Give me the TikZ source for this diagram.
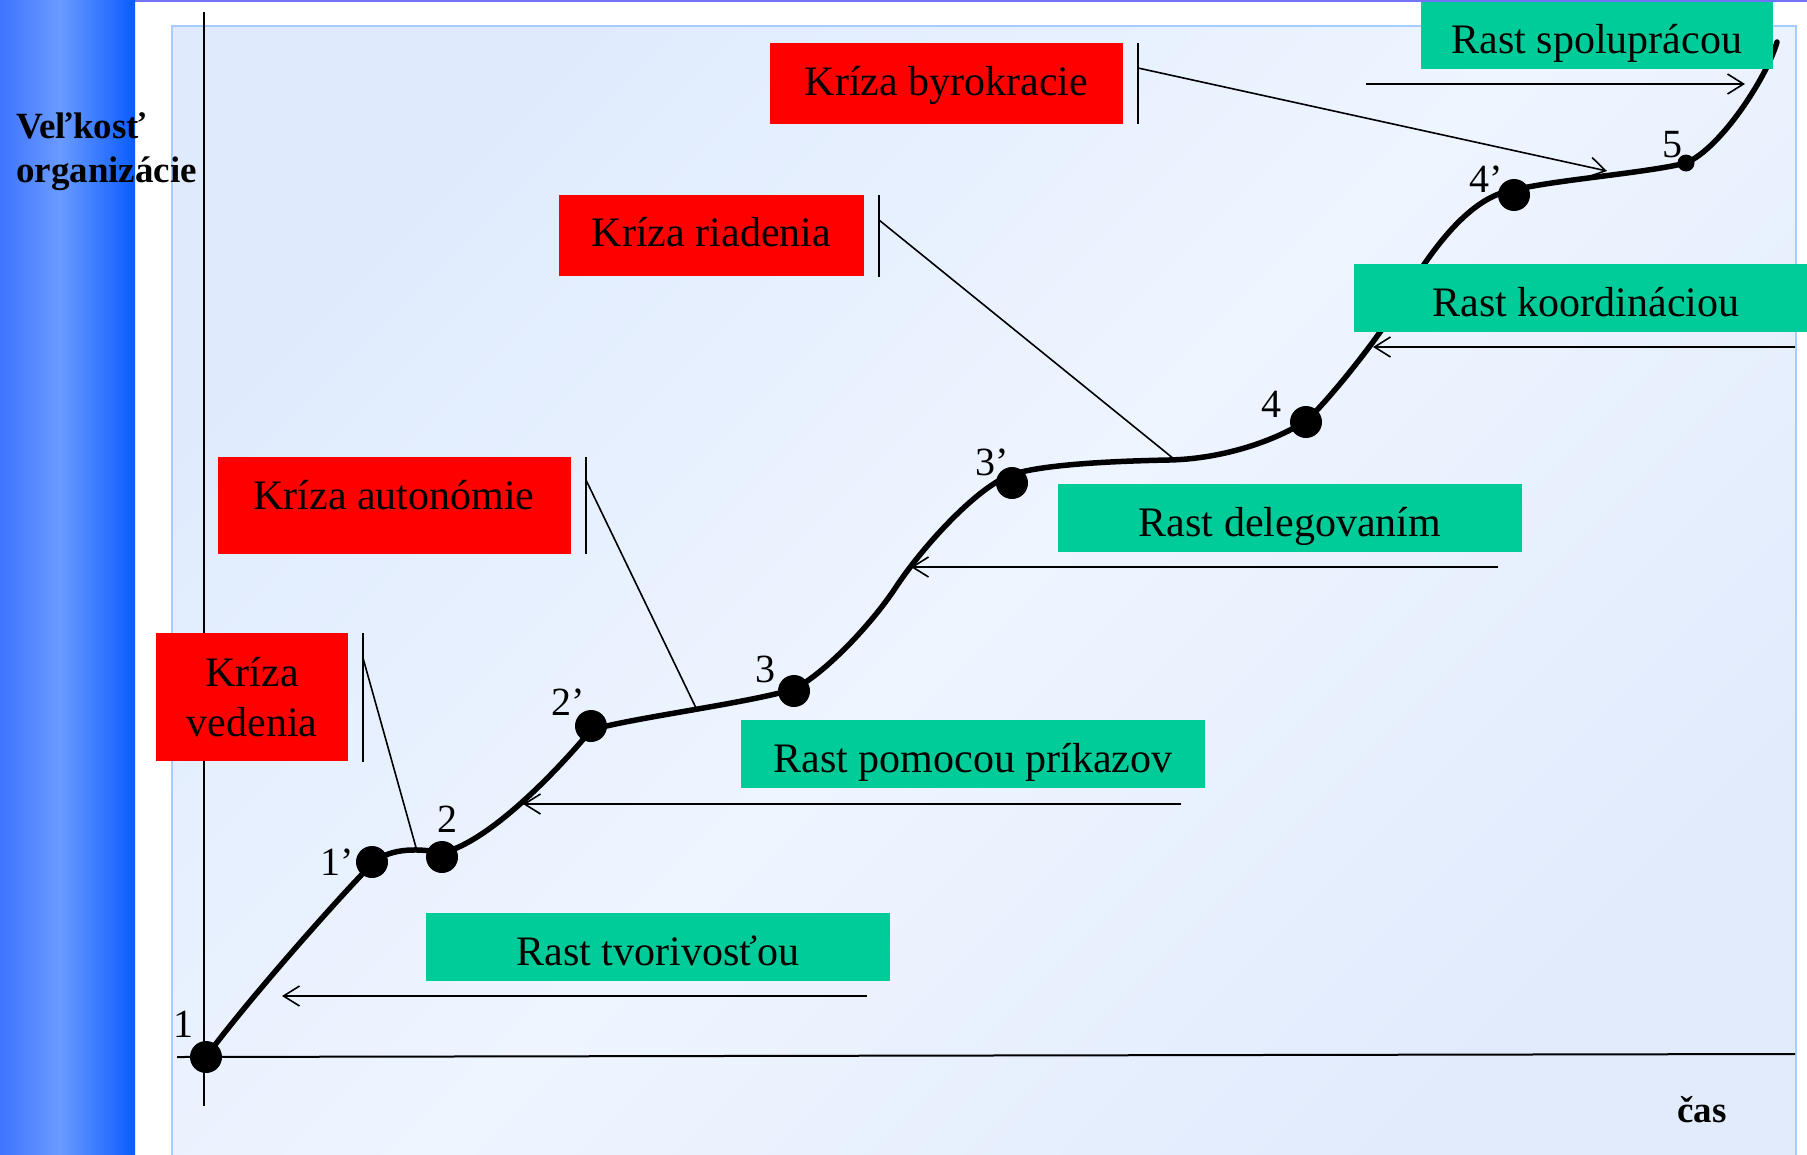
\documentclass[tikz,border=0pt]{standalone}
\usepackage{fontspec}
\setmainfont{Liberation Serif}
\usetikzlibrary{arrows.meta}

\definecolor{critred}{RGB}{255,0,0}
\definecolor{growgreen}{RGB}{0,204,153}
\definecolor{barA}{RGB}{62,116,255}
\definecolor{barB}{RGB}{106,155,255}
\definecolor{barC}{RGB}{10,92,255}
\definecolor{panelA}{RGB}{223,235,253}
\definecolor{panelB}{RGB}{238,245,255}
\definecolor{panelC}{RGB}{225,235,252}
\definecolor{panelEdge}{RGB}{166,205,255}
\definecolor{topRule}{RGB}{115,115,245}

\tikzset{
  crisis/.style={fill=critred, inner sep=0pt, text depth=0pt,
    font=\fontsize{42pt}{50pt}\selectfont},
  growth/.style={fill=growgreen, inner sep=0pt, text height=36pt, text depth=0pt,
    minimum height=68pt, font=\fontsize{42pt}{50pt}\selectfont},
  dot/.style={circle, fill=black, inner sep=0pt, minimum size=32pt},
  smalldot/.style={circle, fill=black, inner sep=0pt, minimum size=17pt},
  ptlabel/.style={anchor=base, inner sep=0pt, font=\fontsize{40pt}{48pt}\selectfont},
  axislabel/.style={inner sep=0pt, font=\bfseries\fontsize{37pt}{44pt}\selectfont},
  axisline/.style={line width=2pt},
  thinline/.style={line width=1.6pt},
  growtharrow/.style={line width=1.6pt, -{Straight Barb[length=16pt,width=20pt,line width=1.6pt]}},
  growthcurve/.style={line width=5.5pt, line cap=round, line join=round},
}

\begin{document}
\begin{tikzpicture}[x=1pt, y=-1pt]
\clip (0,0) rectangle (1807,1154);

% page background and the blue side band
\fill[white] (0,0) rectangle (1807,1154);
\shade[left color=barA, right color=barB] (0,0) rectangle (60,1154);
\shade[left color=barB, right color=barC] (60,0) rectangle (135,1154);

% light chart panel, lighter along its middle diagonal
\shade[left color=panelA, right color=panelC, middle color=panelB, shading angle=45]
  (172,26) rectangle (1796,1170);
\draw[panelEdge, line width=2pt] (172,26) rectangle (1796,1170);

% axes
\coordinate (yTop) at (204,12);
\coordinate (yBot) at (204,1106);
\coordinate (xLeft) at (177,1057);
\coordinate (xRight) at (1795,1054);
\draw[axisline] (yTop) -- (yBot);
\draw[axisline] (xLeft) -- (xRight);

% growth-phase arrows
\coordinate (tvoS) at (867,996);   \coordinate (tvoT) at (282,996);
\coordinate (priS) at (1181,804);  \coordinate (priT) at (523,804);
\coordinate (delS) at (1498,567);  \coordinate (delT) at (911,567);
\coordinate (korS) at (1795,347);  \coordinate (korT) at (1373,347);
\coordinate (spoS) at (1366,84);   \coordinate (spoT) at (1745,84);
\draw[growtharrow] (tvoS) -- (tvoT);
\draw[growtharrow] (priS) -- (priT);
\draw[growtharrow] (delS) -- (delT);
\draw[growtharrow] (korS) -- (korT);
\draw[growtharrow] (spoS) -- (spoT);

% crisis brackets and leaders
\coordinate (vedTop) at (363,633);  \coordinate (vedBot) at (363,762);
\coordinate (vedJoin) at (363,658); \coordinate (vedEnd) at (417,851);
\coordinate (autTop) at (586,457);  \coordinate (autBot) at (586,554);
\coordinate (autJoin) at (586,480); \coordinate (autEnd) at (697,710);
\coordinate (riaTop) at (879,195);  \coordinate (riaBot) at (879,277);
\coordinate (riaJoin) at (879,220); \coordinate (riaEnd) at (1174,459);
\coordinate (byrTop) at (1138,43);  \coordinate (byrBot) at (1138,124);
\coordinate (byrJoin) at (1138,68); \coordinate (byrEnd) at (1607,171);
\draw[thinline] (vedTop) -- (vedBot);
\draw[thinline] (vedJoin) -- (vedEnd);
\draw[thinline] (autTop) -- (autBot);
\draw[thinline] (autJoin) -- (autEnd);
\draw[thinline] (riaTop) -- (riaBot);
\draw[thinline] (riaJoin) -- (riaEnd);
\draw[thinline] (byrTop) -- (byrBot);
\draw[growtharrow] (byrJoin) -- (byrEnd);

% organisation growth curve, through the phase points
\coordinate (c1)  at (206,1057);
\coordinate (c1b) at (372,864);
\coordinate (c2)  at (442,853);
\coordinate (c2b) at (591,730);
\coordinate (c3)  at (794,689);
\coordinate (m3)  at (896,587);
\coordinate (c3b) at (1008,476);
\coordinate (m4)  at (1169,460);
\coordinate (c4)  at (1306,421);
\coordinate (m5)  at (1400,302);
\coordinate (c4b) at (1514,190);
\coordinate (c5)  at (1686,163);
\coordinate (cE)  at (1777,42);
\draw[growthcurve] (c1)
  .. controls +(40,-55) and +(-30,30) .. (c1b)
  .. controls +(18,-18) and +(-18,-4) .. (c2)
  .. controls +(50,-12) and +(-28,34) .. (c2b)
  .. controls +(40,-12) and +(-45,14) .. (c3)
  .. controls +(30,-15) and +(-25,38) .. (m3)
  .. controls +(25,-38) and +(-35,15) .. (c3b)
  .. controls +(30,-12) and +(-50,1) .. (m4)
  .. controls +(50,-1) and +(-35,22) .. (c4)
  .. controls +(22,-20) and +(-22,37) .. (m5)
  .. controls +(30,-50) and +(-45,6) .. (c4b)
  .. controls +(40,-10) and +(-40,10) .. (c5)
  .. controls +(35,-15) and +(-10,35) .. (cE);

% phase points
\node[dot] (d1)  at (206,1057) {};
\node[dot] (d1b) at (372,862) {};
\node[dot] (d2)  at (442,857) {};
\node[dot] (d2b) at (591,726) {};
\node[dot] (d3)  at (794,691) {};
\node[dot] (d3b) at (1012,483) {};
\node[dot] (d4)  at (1306,422) {};
\node[dot] (d4b) at (1514,195) {};
\node[smalldot] (d5) at (1686,163) {};

\node[ptlabel] (l1)  at (183,1037) {1};
\node[ptlabel] (l1b) at (337,875) {1’};
\node[ptlabel] (l2)  at (447,832) {2};
\node[ptlabel] (l2b) at (568,715) {2’};
\node[ptlabel] (l3)  at (765,682) {3};
\node[ptlabel] (l3b) at (992,475) {3’};
\node[ptlabel] (l4)  at (1271,417) {4};
\node[ptlabel] (l4b) at (1486,192) {4’};
\node[ptlabel] (l5)  at (1672,157) {5};

% crisis boxes
\node[crisis, align=center, minimum width=192pt, minimum height=128pt]
  (kVed) at (252,697) {Kríza\\vedenia};
\node[crisis, text height=8pt, minimum width=353pt, minimum height=97pt]
  (kAut) at (394,505) {Kríza autonómie};
\node[crisis, text height=23pt, minimum width=305pt, minimum height=81pt]
  (kRia) at (711.5,235.3) {Kríza riadenia};
\node[crisis, text height=23pt, minimum width=353pt, minimum height=81pt]
  (kByr) at (946.5,83.5) {Kríza byrokracie};

% growth boxes
\node[growth, minimum width=464pt] (gTvo) at (658,947) {Rast tvorivosťou};
\node[growth, minimum width=464pt] (gPri) at (973,754) {Rast pomocou príkazov};
\node[growth, minimum width=464pt] (gDel) at (1290,518) {Rast delegovaním};
\node[growth, minimum width=464pt] (gKor) at (1586,298) {Rast koordináciou};
\node[growth, minimum width=352pt] (gSpo) at (1597,35) {Rast spoluprácou};

% axis titles
\node[axislabel, anchor=base west] (yTitleA) at (16,138) {Veľkosť};
\node[axislabel, anchor=base west] (yTitleB) at (16,182) {organizácie};
\node[axislabel, anchor=base] (xTitle) at (1702,1122) {čas};

% thin rule along the top edge
\draw[topRule, line width=2pt] (135,1) -- (1807,1);
\end{tikzpicture}
\end{document}
